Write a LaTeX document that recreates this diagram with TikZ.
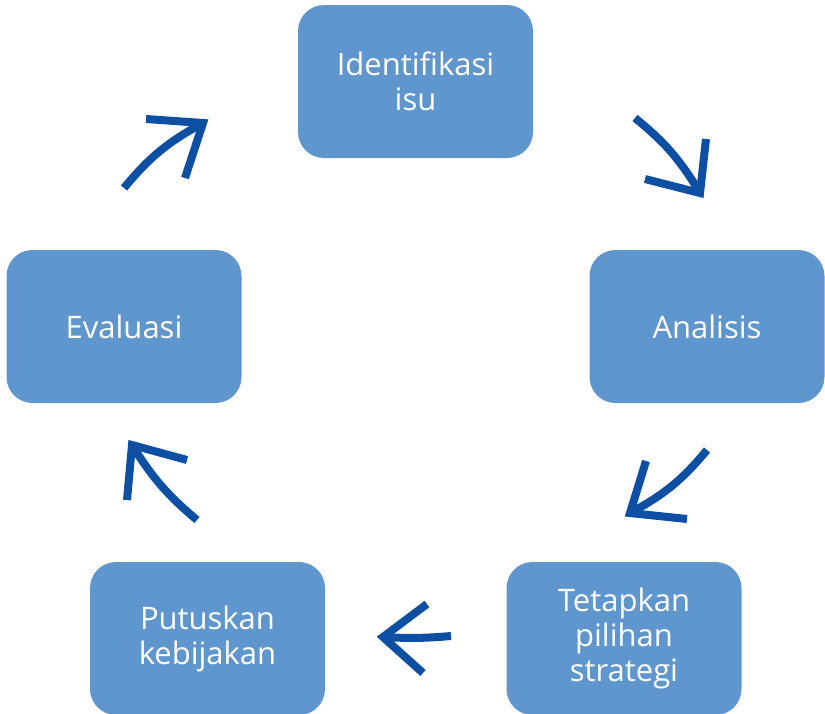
\documentclass[tikz,border=0pt]{standalone}
\usepackage{fontspec}
\setmainfont{Open Sans}
\definecolor{boxblue}{RGB}{96,150,206}
\definecolor{arrowblue}{RGB}{13,79,163}
\begin{document}
\begin{tikzpicture}[x=1pt,y=-1pt,
  stepbox/.style={rounded corners=26pt, fill=boxblue, draw=none,
    minimum width=235pt, minimum height=153pt, align=center,
    text=white, font=\fontsize{31}{35}\selectfont},
  shaft/.style={draw=arrowblue, line width=8pt},
  barb/.style={draw=arrowblue, line width=8pt, miter limit=10}]
\useasboundingbox (0,0) rectangle (825,713);
% process steps
\node[stepbox] (isu) at (415.5,81.5) {Identifikasi\\isu};
\node[stepbox] (analisis) at (707,326.5) {Analisis};
\node[stepbox] (strategi) at (624,638.5) {Tetapkan\\pilihan\\strategi};
\node[stepbox] (kebijakan) at (207.5,638.5) {Putuskan\\kebijakan};
\node[stepbox] (evaluasi) at (124,326.5) {Evaluasi};
% arrow geometry: tail, tip and the two barb ends
\coordinate (t1) at (124,188); \coordinate (h1) at (203,123);
\coordinate (a1) at (146,119); \coordinate (b1) at (185,178);
\coordinate (t2) at (635,118); \coordinate (h2) at (700,193);
\coordinate (a2) at (706,139); \coordinate (b2) at (645,179);
\coordinate (t3) at (707,450); \coordinate (h3) at (630,513);
\coordinate (a3) at (687,519); \coordinate (b3) at (646,461);
\coordinate (t4) at (451,636); \coordinate (h4) at (383,637);
\coordinate (a4) at (423,673); \coordinate (b4) at (427,604);
\coordinate (t5) at (197,520); \coordinate (h5) at (132,445);
\coordinate (a5) at (127,500); \coordinate (b5) at (187,460);
\foreach \i/\b in {1/11,2/10,3/11,4/4,5/9}{
  \draw[shaft] (t\i) to[bend left=\b] (h\i);
  \draw[barb] (a\i) -- (h\i) -- (b\i);
}
\end{tikzpicture}
\end{document}
